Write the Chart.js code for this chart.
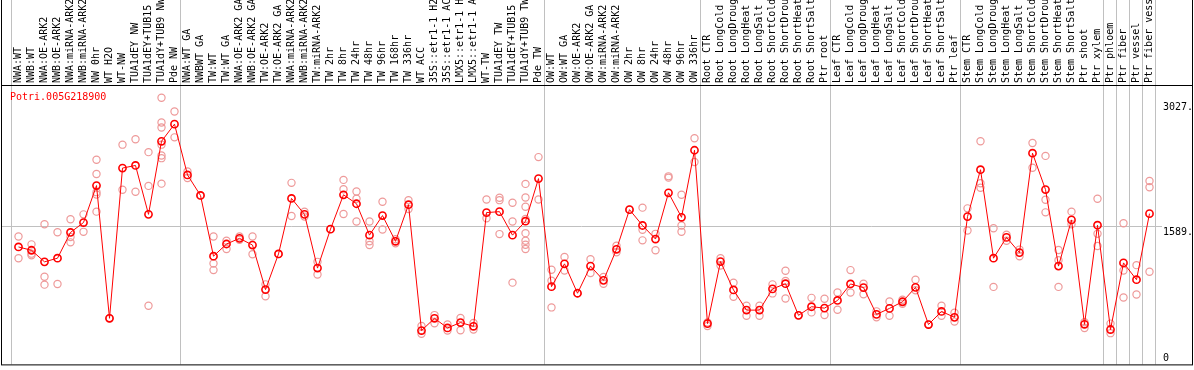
<!DOCTYPE html>
<html>
<head>
<meta charset="utf-8">
<script src="https://cdn.jsdelivr.net/npm/chart.js@4.4.0/dist/chart.umd.min.js"></script>
<style>
  html, body { margin: 0; padding: 0; background: #fff; }
  #wrap { width: 1194px; height: 370px; }
</style>
</head>
<body>
<div id="wrap"><canvas id="exprChart" width="1194" height="370"></canvas></div>
<script>
// sample labels, left to right
var samples = [
  'NWA:WT', 'NWB:WT', 'NWA:OE-ARK2', 'NWB:OE-ARK2', 'NWA:miRNA-ARK2', 'NWB:miRNA-ARK2',
  'NW 0hr', 'WT H2O', 'WT-NW', 'TUA1dEY NW', 'TUA1dEY+TUB15 NW', 'TUA1dY+TUB9 NW', 'Pde NW',
  'NWA:WT GA', 'NWBWT GA', 'TW:WT', 'TW:WT GA', 'NWA:OE-ARK2 GA', 'NWB:OE-ARK2 GA',
  'TW:OE-ARK2', 'TW:OE-ARK2 GA', 'NWA:miRNA-ARK2', 'NWB:miRNA-ARK2', 'TW:miRNA-ARK2',
  'TW 2hr', 'TW 8hr', 'TW 24hr', 'TW 48hr', 'TW 96hr', 'TW 168hr', 'TW 336hr', 'WT ACC',
  '35S::etr1-1 H2O', '35S::etr1-1 ACC', 'LMX5::etr1-1 H2O', 'LMX5::etr1-1 ACC', 'WT-TW',
  'TUA1dEY TW', 'TUA1dEY+TUB15 TW', 'TUA1dY+TUB9 TW', 'Pde TW',
  'OW:WT', 'OW:WT GA', 'OW:OE-ARK2', 'OW:OE-ARK2 GA', 'OW:miRNA-ARK2', 'OW:miRNA-ARK2 GA',
  'OW 2hr', 'OW 8hr', 'OW 24hr', 'OW 48hr', 'OW 96hr', 'OW 336hr',
  'Root CTR', 'Root LongCold', 'Root LongDrought', 'Root LongHeat', 'Root LongSalt',
  'Root ShortCold', 'Root ShortDrought', 'Root ShortHeat', 'Root ShortSalt', 'Ptr root',
  'Leaf CTR', 'Leaf LongCold', 'Leaf LongDrought', 'Leaf LongHeat', 'Leaf LongSalt',
  'Leaf ShortCold', 'Leaf ShortDrought', 'Leaf ShortHeat', 'Leaf ShortSalt', 'Ptr leaf',
  'Stem CTR', 'Stem LongCold', 'Stem LongDrought', 'Stem LongHeat', 'Stem LongSalt',
  'Stem ShortCold', 'Stem ShortDrought', 'Stem ShortHeat', 'Stem ShortSalt',
  'Ptr shoot', 'Ptr xylem', 'Ptr phloem', 'Ptr fiber', 'Ptr vessel', 'Ptr fiber vessel'
];

// mean expression per sample
var means = [
  1350, 1312, 1179, 1221, 1517, 1631, 2056, 530, 2257, 2287, 1725, 2565, 2762,
  2178, 1942, 1244, 1384, 1449, 1372, 860, 1270, 1908, 1725, 1107, 1555, 1950, 1847,
  1486, 1711, 1415, 1836, 389, 530, 419, 481, 438, 1745, 1756, 1486, 1646, 2136,
  894, 1156, 818, 1130, 966, 1323, 1779, 1597, 1441, 1973, 1691, 2462,
  469, 1182, 856, 624, 624, 868, 928, 564, 663, 647,
  735, 925, 883, 575, 644, 720, 886, 458, 609, 541,
  1699, 2238, 1221, 1460, 1285, 2428, 2010, 1130, 1661,
  461, 1600, 401, 1167, 974, 1733
];

// individual replicates per sample
var replicates = [
  [1471, 1221], [1380, 1273, 1255], [1612, 1008, 917], [1520, 925], [1668, 1464, 1403],
  [1725, 1524], [2352, 2189, 1980, 1953, 1756], [530], [2526, 2007], [2588, 1984],
  [2440, 2052, 674], [3066, 2781, 2724, 2526, 2401, 2371, 2078], [2907, 2610],
  [2219, 2143], [1942], [1471, 1159, 1084], [1421, 1327], [1471, 1433], [1471, 1266],
  [920, 784], [1270], [2087, 1706], [1756, 1699], [1179, 1034], [1555],
  [2121, 2014, 1729], [1987, 1904, 1642], [1642, 1415, 1372], [1870, 1551], [1392, 1438],
  [1888, 1786], [442, 351], [567, 473], [458, 390], [533, 393], [476, 400],
  [1896, 1680], [1916, 1888, 1498], [1859, 1642, 940],
  [2075, 1919, 1813, 1672, 1509, 1421, 1376, 1327], [2383, 1896],
  [1088, 961, 655], [1236, 1080], [818], [1210, 1050], [1005, 928], [1364, 1289],
  [1779], [1802, 1547, 1426], [1501, 1312], [2162, 2147], [1950, 1597, 1524], [2599, 2326],
  [481, 442], [1221, 1137], [940, 777], [674, 560], [674, 560], [920, 816],
  [1076, 959, 757], [564], [765, 598], [754, 567],
  [826, 629], [1084, 826], [928, 806], [541, 610], [723, 560], [743, 697], [974, 852],
  [458], [674, 560], [595, 492],
  [1794, 1540], [2565, 2082, 2030], [1566, 891], [1490, 1421], [1244, 1320],
  [2546, 2261], [2397, 1893, 1748], [1315, 1198, 891], [1756, 1612],
  [484, 419], [1904, 1501, 1361], [469, 359], [1623, 1080, 769], [1141, 803],
  [2109, 2036, 1065]
];

// where a new tissue group starts (sample index)
var groupEdges = [0, 13, 41, 53, 63, 73, 84, 85, 86, 87, 88];

var yTickValues = [0, 1589, 3027];
var yTickLabels = ['0', '1589.', '3027.'];
var geneName = 'Potri.005G218900';

var monoFont = '10px "DejaVu Sans Mono", monospace';

var meanPoints = means.map(function (v, i) { return { x: i, y: v }; });
var repPoints = [];
replicates.forEach(function (list, i) {
    list.forEach(function (v) { repPoints.push({ x: i, y: v }); });
});

var framePlugin = {
    id: 'framePlugin',
    beforeDatasetsDraw: function (chart) {
        var ctx = chart.ctx, area = chart.chartArea;
        var x = chart.scales.x, y = chart.scales.y;
        ctx.save();
        ctx.strokeStyle = '#c0c0c0';
        ctx.lineWidth = 1;
        groupEdges.forEach(function (b) {
            var px = Math.round(x.getPixelForValue(b - 0.5)) - 0.5;
            ctx.beginPath();
            ctx.moveTo(px, 0);
            ctx.lineTo(px, area.bottom);
            ctx.stroke();
        });
        var gy = Math.round(y.getPixelForValue(1589)) + 0.5;
        ctx.beginPath();
        ctx.moveTo(1, gy);
        ctx.lineTo(1162, gy);
        ctx.stroke();
        ctx.restore();
    },
    afterDraw: function (chart) {
        var ctx = chart.ctx, area = chart.chartArea;
        var y = chart.scales.y;
        var w = chart.width;
        ctx.save();
        // outer box
        ctx.strokeStyle = '#000';
        ctx.lineWidth = 1;
        ctx.beginPath();
        ctx.moveTo(1.5, 0); ctx.lineTo(1.5, area.bottom + 0.5);
        ctx.moveTo(w - 1.5, 0); ctx.lineTo(w - 1.5, area.bottom + 0.5);
        ctx.moveTo(1, area.top + 0.5); ctx.lineTo(w - 1, area.top + 0.5);
        ctx.moveTo(1, area.bottom + 0.5); ctx.lineTo(w - 1, area.bottom + 0.5);
        ctx.stroke();
        // gene name
        ctx.font = monoFont;
        ctx.textBaseline = 'top';
        ctx.textAlign = 'left';
        ctx.fillStyle = '#ff0000';
        ctx.fillText(geneName, 10, area.top + 7);
        // right axis labels
        ctx.fillStyle = '#000';
        yTickValues.forEach(function (v, i) {
            var py = Math.min(y.getPixelForValue(v) + 1, area.bottom - 11);
            ctx.fillText(yTickLabels[i], area.right + 7, py);
        });
        ctx.restore();
    }
};

var chart = new Chart(document.getElementById('exprChart').getContext('2d'), {
    type: 'line',
    data: {
        datasets: [{
            label: 'mean',
            data: meanPoints,
            borderColor: '#ff0000',
            borderWidth: 1,
            pointRadius: 3.6,
            pointBorderWidth: 1.6,
            pointBorderColor: '#ff0000',
            pointBackgroundColor: 'rgba(0,0,0,0)',
            tension: 0
        }, {
            label: 'replicates',
            data: repPoints,
            showLine: false,
            pointRadius: 3.6,
            pointBorderWidth: 1.2,
            pointBorderColor: '#ee9a9a',
            pointBackgroundColor: 'rgba(0,0,0,0)'
        }]
    },
    options: {
        responsive: false,
        animation: false,
        devicePixelRatio: 1,
        layout: { padding: { left: 12, right: 1, top: 0, bottom: 2 } },
        plugins: { legend: { display: false }, tooltip: { enabled: false } },
        scales: {
            x: {
                type: 'linear',
                position: 'top',
                min: -0.5,
                max: samples.length - 0.5,
                grid: { display: false, drawTicks: false },
                border: { display: false },
                afterBuildTicks: function (scale) {
                    scale.ticks = samples.map(function (s, i) { return { value: i }; });
                },
                afterFit: function (scale) { scale.height = 85; },
                ticks: {
                    autoSkip: false,
                    minRotation: 90,
                    maxRotation: 90,
                    padding: 2,
                    labelOffset: 12,
                    color: '#000',
                    font: { family: '"DejaVu Sans Mono", monospace', size: 10 },
                    callback: function (v) { return samples[v]; }
                }
            },
            y: {
                type: 'linear',
                position: 'right',
                min: 0,
                max: 3212,
                grid: { display: false },
                border: { display: false },
                ticks: { display: false },
                afterFit: function (scale) { scale.width = 37; }
            }
        }
    },
    plugins: [framePlugin]
});
</script>
</body>
</html>
